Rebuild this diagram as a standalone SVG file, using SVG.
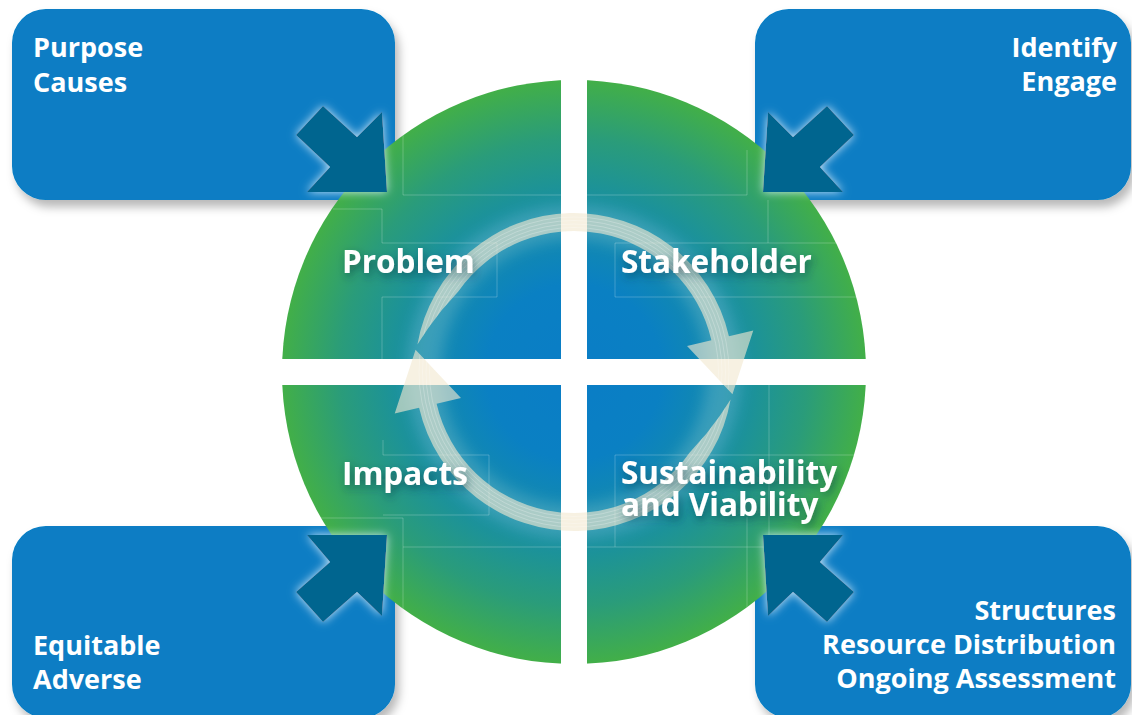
<svg xmlns="http://www.w3.org/2000/svg" xmlns:xlink="http://www.w3.org/1999/xlink" width="1132" height="715" viewBox="0 0 1132 715">
  <style>
    .box { fill: #077dc4; }
    .lbl { font-family: "Open Sans", "Liberation Sans", sans-serif; font-weight: 700; fill: #ffffff; }
    .big { font-size: 31.5px; }
    .small { font-size: 27px; }
    .arrow { fill: #03658f; }
    .frame { fill: none; stroke: #ffffff; stroke-opacity: 0.22; stroke-width: 1; }
    .ring { fill: #f2e8d0; fill-opacity: 0.62; }
    .stripe { fill: none; stroke: #ffffff; stroke-opacity: 0.35; stroke-width: 0.7; }
  </style>
  <defs>
    <radialGradient id="disc" cx="574" cy="372" r="292" gradientUnits="userSpaceOnUse">
      <stop offset="0" stop-color="#0a7dc6"/>
      <stop offset="0.3" stop-color="#0a80c3"/>
      <stop offset="0.55" stop-color="#168ea6"/>
      <stop offset="0.8" stop-color="#2a9c7a"/>
      <stop offset="1" stop-color="#42af48"/>
    </radialGradient>
    <clipPath id="quads">
      <rect x="0" y="0" width="561" height="359"/>
      <rect x="587" y="0" width="545" height="359"/>
      <rect x="0" y="385" width="561" height="330"/>
      <rect x="587" y="385" width="545" height="330"/>
    </clipPath>
    <clipPath id="discClip"><circle cx="574" cy="372" r="292"/></clipPath>
    <filter id="boxShadow" x="-10%" y="-10%" width="130%" height="140%">
      <feDropShadow dx="4" dy="7" stdDeviation="5" flood-color="#000000" flood-opacity="0.28"/>
    </filter>
    <filter id="textShadow" x="-20%" y="-40%" width="140%" height="200%">
      <feDropShadow dx="2" dy="4" stdDeviation="4" flood-color="#0a3448" flood-opacity="0.55"/>
    </filter>
    <filter id="glow" x="-40%" y="-40%" width="180%" height="180%">
      <feGaussianBlur in="SourceAlpha" stdDeviation="5" result="b"/>
      <feFlood flood-color="#d4ebfa" flood-opacity="0.95"/>
      <feComposite in2="b" operator="in" result="g"/>
      <feMerge><feMergeNode in="g"/><feMergeNode in="SourceGraphic"/></feMerge>
    </filter>
    <filter id="soft" x="-30%" y="-30%" width="160%" height="160%">
      <feGaussianBlur stdDeviation="7"/>
    </filter>
    <path id="ringArrow" d="M417.42,344.39 A159,159 0 0 1 728.92,336.23 L753.28,330.61 L732.44,394.27 L687.03,345.91 L711.39,340.28 A141,141 0 0 0 458.50,291.13 L441.68,310.30 L428.64,327.56 Z"/>
    <clipPath id="ringClip">
      <use xlink:href="#ringArrow"/>
      <use xlink:href="#ringArrow" transform="rotate(180 574 372)"/>
    </clipPath>
  </defs>

  <!-- corner boxes -->
  <g id="box-tl" filter="url(#boxShadow)"><rect class="box" x="12" y="9" width="383" height="191" rx="34"/></g>
  <g id="box-tr" filter="url(#boxShadow)"><rect class="box" x="755" y="9" width="376" height="191" rx="34"/></g>
  <g id="box-bl" filter="url(#boxShadow)"><rect class="box" x="12" y="526" width="383" height="192" rx="34"/></g>
  <g id="box-br" filter="url(#boxShadow)"><rect class="box" x="755" y="526" width="376" height="192" rx="34"/></g>

  <!-- central disc in four quadrants -->
  <g id="disc-quadrants">
    <circle cx="574" cy="372" r="292" fill="url(#disc)" clip-path="url(#quads)"/>
    <g clip-path="url(#quads)">
      <g clip-path="url(#discClip)">
        <path class="frame" d="M403,120 V195 H561 M333,209 H382 V243 H497 V297 H382 V359"/>
        <path class="frame" d="M587,195 H747 V150 M768,200 V243 M615,243 H866 M615,243 V297 H866"/>
        <path class="frame" d="M383,440 V455 H489 V515 H383 M300,518 H403 V664 M403,547 H561"/>
        <path class="frame" d="M769,385 V547 M615,455 H866 M615,455 V547 M587,547 H769 M747,517 V664"/>
      </g>
    </g>
    <circle cx="574" cy="372" r="150" fill="none" stroke="#ffffff" stroke-opacity="0.16" stroke-width="34" filter="url(#soft)" clip-path="url(#quads)"/>
  </g>

  <!-- cycle arrows -->
  <g id="connectors">
    <g id="cycle-1">
      <use xlink:href="#ringArrow" class="ring"/>
    </g>
    <g id="cycle-2">
      <use xlink:href="#ringArrow" class="ring" transform="rotate(180 574 372)"/>
    </g>
    <g clip-path="url(#ringClip)">
      <circle class="stripe" cx="574" cy="372" r="144.5"/>
      <circle class="stripe" cx="574" cy="372" r="148"/>
      <circle class="stripe" cx="574" cy="372" r="151.5"/>
      <circle class="stripe" cx="574" cy="372" r="155"/>
    </g>
  </g>

  <!-- quadrant labels -->
  <g id="q-problem" filter="url(#textShadow)"><text class="lbl big" x="342" y="273">Problem</text></g>
  <g id="q-stakeholder" filter="url(#textShadow)"><text class="lbl big" x="621" y="273">Stakeholder</text></g>
  <g id="q-impacts" filter="url(#textShadow)"><text class="lbl big" x="342" y="485">Impacts</text></g>
  <g id="q-sustainability" filter="url(#textShadow)"><text class="lbl big" x="621" y="484">Sustainability<tspan x="621" y="516">and Viability</tspan></text></g>

  <!-- pointing arrows -->
  <g id="arrow-tl" filter="url(#glow)"><polygon class="arrow" points="296,135 323,106 357,137 382,112 387,192 307,192 330,167"/></g>
  <g id="arrow-tr" filter="url(#glow)"><polygon class="arrow" points="763,192 768,112 793,137 827,106 854,135 820,167 843,192"/></g>
  <g id="arrow-bl" filter="url(#glow)"><polygon class="arrow" points="387,535 382,616 357,592 323,622 296,592 330,562 307,535"/></g>
  <g id="arrow-br" filter="url(#glow)"><polygon class="arrow" points="763,535 768,616 793,592 827,622 854,592 820,562 843,535"/></g>

  <!-- box texts -->
  <g id="text-tl"><text class="lbl small" x="33" y="57">Purpose<tspan x="33" y="92">Causes</tspan></text></g>
  <g id="text-tr"><text class="lbl small" x="1117" y="57" text-anchor="end">Identify<tspan x="1117" y="91">Engage</tspan></text></g>
  <g id="text-bl"><text class="lbl small" x="33" y="655">Equitable<tspan x="33" y="689">Adverse</tspan></text></g>
  <g id="text-br"><text class="lbl small" x="1116" y="620" text-anchor="end">Structures<tspan x="1116" y="654">Resource Distribution</tspan><tspan x="1116" y="688">Ongoing Assessment</tspan></text></g>
</svg>
